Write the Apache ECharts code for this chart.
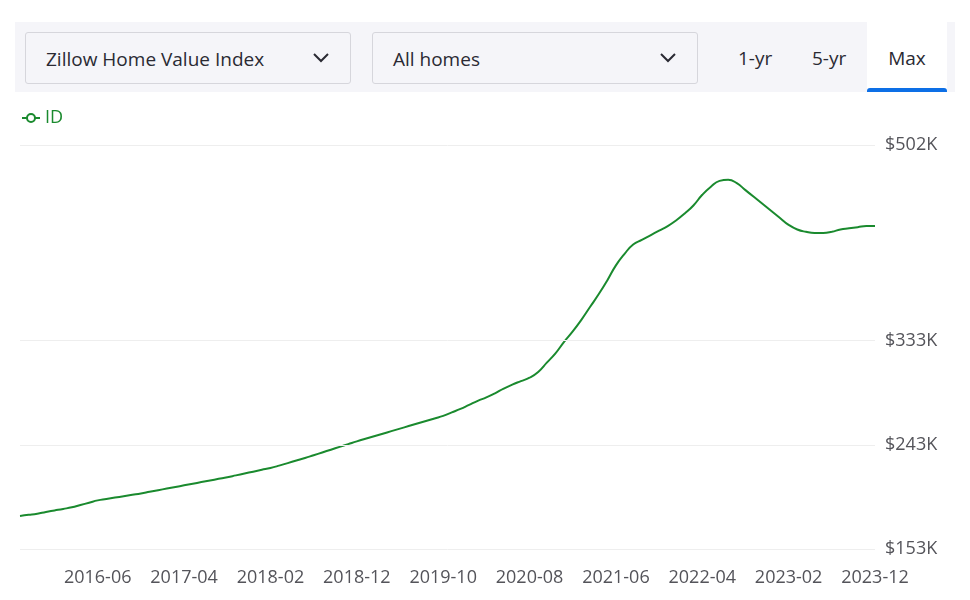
<!DOCTYPE html>
<html>
<head>
<meta charset="utf-8">
<script src="https://cdn.jsdelivr.net/npm/echarts@6/dist/echarts.min.js"></script>
<style>
body{margin:0;background:#fff;font-family:"Open Sans",sans-serif;}
#bar{position:absolute;left:15px;top:22px;width:940px;height:70px;background:#f5f5f9;}
.dd{position:absolute;top:10px;height:52px;border:1px solid #d6d6dc;border-radius:3px;background:#f5f5f9;font-size:19px;color:#2a2a33;line-height:52px;box-sizing:border-box;padding-left:20px;}
.dd svg{position:absolute;right:20px;top:19px;}
.tab{position:absolute;top:10px;height:52px;line-height:52px;font-size:19px;color:#2a2a33;}
#max{position:absolute;left:852px;top:0;width:80px;height:70px;background:#fff;text-align:center;line-height:72px;font-size:19px;color:#2a2a33;}
#max div{position:absolute;left:0;bottom:0;width:80px;height:4px;background:#0d6fe6;border-radius:3px 3px 0 0;}
#chart{position:absolute;left:0;top:0;width:970px;height:600px;}
</style>
</head>
<body>
<div id="chart"></div>
<div id="bar">
  <div class="dd" style="left:10px;width:326px;">Zillow Home Value Index<svg width="18" height="12"><polyline points="2,2 9,9 16,2" fill="none" stroke="#2a2a33" stroke-width="2"/></svg></div>
  <div class="dd" style="left:357px;width:326px;">All homes<svg width="18" height="12"><polyline points="2,2 9,9 16,2" fill="none" stroke="#2a2a33" stroke-width="2"/></svg></div>
  <div class="tab" style="left:723px;">1-yr</div>
  <div class="tab" style="left:797px;">5-yr</div>
  <div id="max">Max<div></div></div>
</div>
<script>
var months = [];
for (var y = 2015, m = 9; months.length < 100; m++) {
    if (m > 12) { m = 1; y++; }
    months.push(y + '-' + (m < 10 ? '0' + m : m));
}
var values = [
    181.6,182.5,183.5,185,186.3,187.6,189,191,193,195,
    196.2,197.4,198.6,199.8,201,202.4,203.8,205.2,206.6,208,
    209.4,210.8,212.2,213.6,215,216.6,218.2,219.8,221.4,223,
    225,227.2,229.4,231.6,234,236.4,238.8,241.2,243.6,246,
    248.2,250.4,252.6,254.8,257,259.2,261.4,263.6,265.8,268,
    271,274,277.5,281,284,287.5,291.5,295,298,301,
    306,314,322,332,341,351,362,373,385,398,
    408,416,420,424,428,432,437,443,450,459,
    466,471,472,469,463,457,451,445,439,433,
    429,427,426,426,427,429,430,431,432,432
];
var yTicks = [153, 243, 333, 502];

var myChart = echarts.init(document.getElementById('chart'));
var option = {
    animation: false,
    legend: {
        left: 16, top: 104,
        data: ['ID'],
        itemWidth: 18, itemHeight: 10, itemGap: 6,
        textStyle: {color: '#1a8a2e', fontSize: 18, fontFamily: 'Open Sans'}
    },
    grid: {left: 20, right: 95, top: 145, bottom: 51},
    xAxis: {
        type: 'category',
        data: months,
        boundaryGap: false,
        axisLine: {show: false},
        axisTick: {show: false},
        axisLabel: {
            interval: function (i) { return i % 10 === 9; },
            color: '#54545a', fontSize: 18, fontFamily: 'Open Sans', margin: 20
        }
    },
    yAxis: {
        type: 'value', min: 153, max: 502,
        axisLine: {show: false}, axisTick: {show: false},
        axisLabel: {show: false}, splitLine: {show: false}
    },
    series: [{
        name: 'ID',
        type: 'line',
        data: values,
        smooth: true,
        symbol: 'emptyCircle',
        symbolSize: 6,
        showSymbol: false,
        lineStyle: {color: '#1a8a2e', width: 2},
        itemStyle: {color: '#1a8a2e'},
        markLine: {
            silent: true,
            symbol: 'none',
            lineStyle: {color: '#eeeeee', type: 'solid', width: 1},
            label: {
                position: 'end', color: '#54545a', fontSize: 18, fontFamily: 'Open Sans',
                distance: 10,
                formatter: function (p) { return '$' + p.value + 'K'; }
            },
            data: yTicks.map(function (v) { return {yAxis: v}; })
        }
    }]
};
myChart.setOption(option);
</script>
</body>
</html>
